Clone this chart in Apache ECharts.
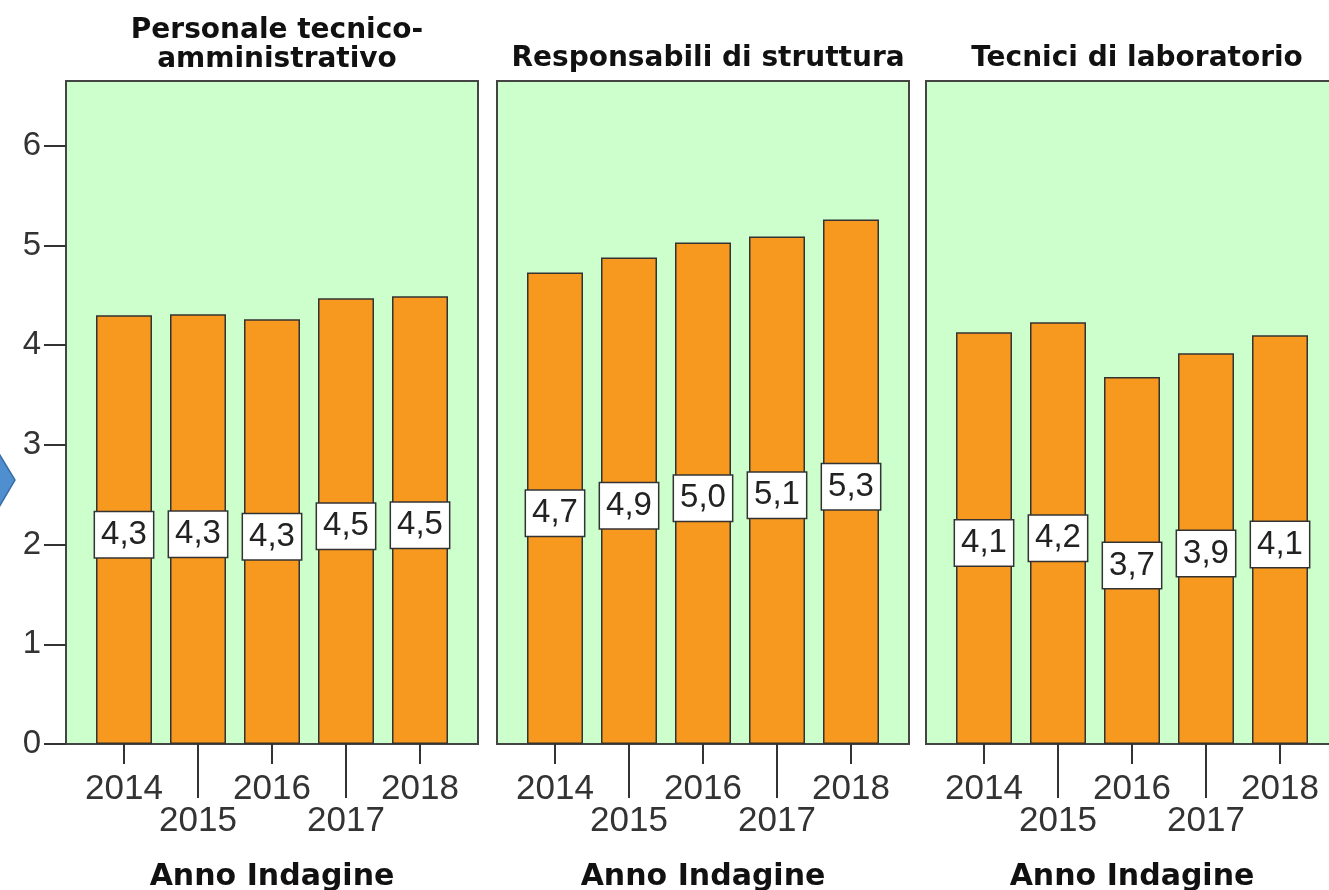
<!DOCTYPE html>
<html>
<head>
<meta charset="utf-8">
<script src="https://cdn.jsdelivr.net/npm/echarts@6/dist/echarts.min.js"></script>
<style>
  html, body { margin: 0; padding: 0; background: #fff; }
  #chart { width: 1329px; height: 890px; }
</style>
</head>
<body>
<div id="chart"></div>
<script>
// categorie e valori (medie per anno d'indagine)
const years = ['2014', '2015', '2016', '2017', '2018']
const panelTitles = ['Personale tecnico-\namministrativo', 'Responsabili di struttura', 'Tecnici di laboratorio']
const tecnicoAmministrativo = [4.30, 4.31, 4.26, 4.47, 4.49]
const responsabiliStruttura = [4.73, 4.88, 5.03, 5.09, 5.26]
const tecniciLaboratorio = [4.13, 4.23, 3.68, 3.92, 4.10]
const yTicks = [0, 1, 2, 3, 4, 5, 6]
const xName = 'Anno Indagine'

const panelData = [tecnicoAmministrativo, responsabiliStruttura, tecniciLaboratorio]

// layout dei pannelli
const panelLeft = [66, 497, 926]
const panelWidth = 412
const innerPad = 21
const yMax = 6.65
const numFont = 'Liberation Sans, Arial, sans-serif'
const boldFont = 'DejaVu Sans, Verdana, sans-serif'

const myChart = echarts.init(document.getElementById('chart'))

let grid = []
let xAxis = []
let yAxis = []
let series = []
let title = []

panelLeft.forEach((left, p) => {
  // griglia esterna: sfondo verde + cornice
  grid.push({
    left: left, width: panelWidth, top: 81, bottom: 146,
    outerBoundsMode: 'none',
    show: true, backgroundColor: '#ccffcc', borderColor: '#444', borderWidth: 2
  })
  // griglia interna: le barre
  grid.push({
    left: left + innerPad, width: panelWidth - innerPad * 2, top: 81, bottom: 146,
    outerBoundsMode: 'none'
  })
  const gOut = p * 2
  const gIn = p * 2 + 1

  xAxis.push({ type: 'value', gridIndex: gOut, min: 0, max: 1, show: false })
  // anni pari: tacca corta
  xAxis.push({
    type: 'category', gridIndex: gIn, data: years, position: 'bottom',
    axisLine: { show: false },
    axisTick: {
      show: true, alignWithLabel: true, length: 20,
      interval: (i) => i % 2 === 0,
      lineStyle: { color: '#333', width: 2 }
    },
    axisLabel: {
      interval: (i) => i % 2 === 0,
      fontSize: 35, color: '#333', fontFamily: numFont, margin: 28
    }
  })
  // anni dispari: tacca lunga, riga sotto
  xAxis.push({
    type: 'category', gridIndex: gIn, data: years, position: 'bottom',
    axisLine: { show: false },
    axisTick: {
      show: true, alignWithLabel: true, length: 54,
      interval: (i) => i % 2 === 1,
      lineStyle: { color: '#333', width: 2 }
    },
    axisLabel: {
      interval: (i) => i % 2 === 1,
      fontSize: 35, color: '#333', fontFamily: numFont, margin: 60
    },
    name: xName, nameLocation: 'middle', nameGap: 118,
    nameTextStyle: { fontSize: 30, fontWeight: 'bold', color: '#111', fontFamily: boldFont }
  })

  yAxis.push({
    type: 'value', gridIndex: gOut, min: 0, max: yMax, show: p === 0,
    splitLine: { show: false },
    axisLine: { show: false },
    axisTick: {
      show: true, length: 22, customValues: yTicks,
      lineStyle: { color: '#333', width: 2 }
    },
    axisLabel: {
      customValues: yTicks, fontSize: 33, color: '#333', fontFamily: numFont, margin: 25
    }
  })
  yAxis.push({ type: 'value', gridIndex: gIn, min: 0, max: yMax, show: false, splitLine: { show: false } })

  series.push({
    type: 'bar',
    xAxisIndex: p * 3 + 1,
    yAxisIndex: p * 2 + 1,
    data: panelData[p],
    barWidth: 56,
    itemStyle: { color: '#f8991f', borderColor: '#333', borderWidth: 1.5 },
    label: {
      show: true,
      position: 'inside',
      offset: [0, 5],
      formatter: (d) => d.value.toFixed(1).replace('.', ','),
      fontSize: 33, color: '#222', fontFamily: numFont,
      backgroundColor: '#fff', borderColor: '#333', borderWidth: 1.5,
      padding: [7, 6, 5, 6]
    },
    silent: true
  })

  title.push({
    text: panelTitles[p],
    left: left + panelWidth / 2,
    top: p === 0 ? 11 : 39,
    textAlign: 'center',
    textStyle: { fontSize: 28, fontWeight: 'bold', color: '#111', fontFamily: boldFont, lineHeight: 29 }
  })
})

const option = {
  animation: false,
  title: title,
  grid: grid,
  xAxis: xAxis,
  yAxis: yAxis,
  series: series,
  // freccia blu sul bordo della slide
  graphic: [{
    type: 'polygon',
    shape: { points: [[-2, 452], [15, 480], [-2, 509]] },
    style: { fill: '#4f8fd0', stroke: '#3a6ea8', lineWidth: 1.5 }
  }]
}

option && myChart.setOption(option)
</script>
</body>
</html>
